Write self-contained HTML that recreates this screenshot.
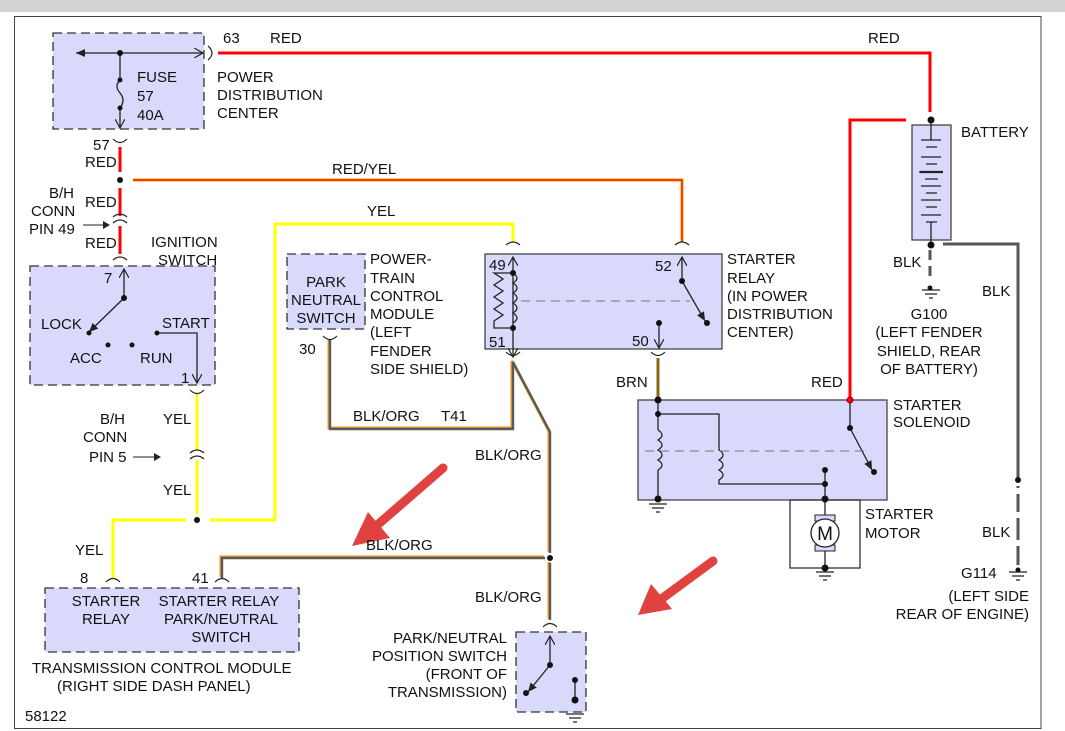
<!DOCTYPE html>
<html><head><meta charset="utf-8"><style>
html,body{margin:0;padding:0;background:#fff;width:1065px;height:731px;overflow:hidden}
svg{display:block}
text{font-family:"Liberation Sans",Arial,sans-serif;font-size:15px;fill:#111}
</style></head><body>
<svg width="1065" height="731" viewBox="0 0 1065 731" xmlns="http://www.w3.org/2000/svg">
<defs>
<marker id="ah" markerWidth="10" markerHeight="10" refX="9" refY="5" orient="auto" markerUnits="userSpaceOnUse"><path d="M0,0 L9,5 L0,10" fill="none" stroke="#222" stroke-width="1.2"/></marker>
<marker id="af" markerWidth="10" markerHeight="10" refX="9" refY="5" orient="auto" markerUnits="userSpaceOnUse"><path d="M0,1 L9,5 L0,9 Z" fill="#222"/></marker>
</defs>
<rect x="0" y="0" width="1065" height="12" fill="#d3d3d3"/>
<rect x="14.5" y="16.5" width="1026.5" height="712" fill="#fff" stroke="#444" stroke-width="1"/>

<g fill="#d9d9fb" stroke="#333" stroke-width="1.3" stroke-dasharray="9,5">
<rect x="53" y="33" width="151" height="96"/>
<rect x="30" y="266" width="185" height="119"/>
<rect x="287" y="254" width="78" height="75"/>
<rect x="45" y="588" width="254" height="64"/>
<rect x="516" y="632" width="70" height="80"/>
</g>
<g fill="#d9d9fb" stroke="#444" stroke-width="1.3">
<rect x="485" y="254" width="237" height="95"/>
<rect x="638" y="400" width="249" height="100"/>
<rect x="912" y="125" width="39" height="115"/>
</g>
<rect x="790" y="500" width="70" height="68" fill="none" stroke="#333" stroke-width="1.3"/>

<g fill="none" stroke-linejoin="miter">
<path d="M218,53 H930 V112" stroke="#f00" stroke-width="3"/>
<path d="M906,120 H850 V400" stroke="#f00" stroke-width="3"/>
<path d="M120,147 V172 M120,188 V216 M120,226 V254" stroke="#f00" stroke-width="3"/>
<path d="M133,180 H682 V242" stroke="#f7a000" stroke-width="3"/>
<path d="M133,180 H682 V242" stroke="#f00" stroke-width="1.2"/>
<path d="M197,394 V450 M197,460 V514 M210,520 H275 V224 H513 V242 M186,520 H113 V578" stroke="#ff0" stroke-width="3"/>
<g transform="translate(-1,-1)"><path d="M330,340 V429 H513 V362 L550,432 V553 M550,563 V620 M545,558 H222 V578" stroke="#f29422" stroke-width="3"/></g>
<path d="M330,340 V429 H513 V362 L550,432 V553 M550,563 V620 M545,558 H222 V578" stroke="#5a5a5a" stroke-width="2.4"/>
<path d="M658,358 V400" stroke="#8a6a10" stroke-width="3"/>
<path d="M943,244 H1018 V478 M1018,486 V565" stroke="#555" stroke-width="3"/>
<path d="M930,250 V282" stroke="#555" stroke-width="3" stroke-dasharray="10,6"/>
</g>
<rect x="1012" y="488" width="12" height="6" fill="#fff"/>
<rect x="1012" y="512" width="12" height="6" fill="#fff"/>
<rect x="1012" y="540" width="12" height="6" fill="#fff"/>

<g fill="none" stroke="#222" stroke-width="1.2">
<path d="M208,46 Q216,53 208,60"/>
<path d="M113,139 Q120,146 127,139"/>
<path d="M113,217 Q120,211 127,217 M113,223 Q120,217 127,223"/>
<path d="M113,260 Q120,254 127,260"/>
<path d="M190,390 Q197,397 204,390"/>
<path d="M190,453 Q197,447 204,453 M190,459 Q197,453 204,459"/>
<path d="M506,245 Q513,239 520,245"/>
<path d="M675,245 Q682,239 689,245"/>
<path d="M323,336 Q330,343 337,336"/>
<path d="M506,352 Q513,359 520,352"/>
<path d="M651,352 Q658,359 665,352"/>
<path d="M106,582 Q113,575 120,582"/>
<path d="M215,582 Q222,575 229,582"/>
<path d="M543,627 Q550,620 557,627"/>
</g>

<g stroke="#222" stroke-width="1.3" fill="none">
<path d="M120,53 H76" marker-end="url(#af)"/>
<path d="M120,53 H203" marker-end="url(#ah)"/>
<path d="M120,53 V80 Q114,86 120,93 Q126,100 120,108 V128" marker-end="url(#ah)"/>
<path d="M124,298 V269" marker-end="url(#ah)"/>
<path d="M124,298 L89,332" marker-end="url(#af)"/>
<path d="M157,333 H197 V383" marker-end="url(#ah)"/>
<path d="M513,338 V257" marker-end="url(#ah)"/>
<path d="M513,338 V357" marker-end="url(#ah)"/>
<path d="M513,273 H494 L503,279 L494,285 L503,291 L494,297 L503,303 L494,309 L503,315 L494,321 V328 H513"/>
<path d="M513,273 Q521,278 513,283 Q521,288 513,293 Q521,298 513,303 Q521,308 513,313 Q521,318 513,323"/>
<path d="M682,281 V257" marker-end="url(#ah)"/>
<path d="M682,281 L705,321" marker-end="url(#af)"/>
<path d="M659,323 V348" marker-end="url(#ah)"/>
<path d="M658,400 V430 M658,470 V500 M658,414 H719 V450 Q727,455 719,460 Q727,465 719,470 Q727,475 719,480 V484 H825 M825,470 V500"/>
<path d="M658,430 Q666,435 658,440 Q666,445 658,450 Q666,455 658,460 Q666,465 658,470"/>
<path d="M850,400 V428 L872,470" marker-end="url(#af)"/>
<path d="M825,500 V515 M825,550 V568"/>
<path d="M550,665 V636" marker-end="url(#ah)"/>
<path d="M550,665 L528,692" marker-end="url(#af)"/>
<path d="M575,680 V700"/>
<path d="M931,120 V140 M921,140 H941 M926,147 H937 M921,157 H941 M926,164 H937 M919,172 H943 M925,179 H938 M921,186 H941 M926,193 H937 M921,200 H941 M926,207 H937 M921,215 H941 M926,222 H937 M931,222 V245"/>
<path d="M920,172 H943" stroke-width="2.2"/>
</g>
<path d="M645,451 H870" stroke="#777" stroke-width="1" stroke-dasharray="9,6"/>
<path d="M521,301 H690" stroke="#777" stroke-width="1" stroke-dasharray="9,6"/>
<rect x="815" y="515" width="20" height="6" fill="#d9d9fb" stroke="#222"/>
<rect x="815" y="545" width="20" height="6" fill="#d9d9fb" stroke="#222"/>
<circle cx="825" cy="533" r="14" fill="#fff" stroke="#222" stroke-width="1.3"/>
<text x="825" y="540" text-anchor="middle" style="font-size:19px">M</text>

<g stroke="#222" stroke-width="1.2">
<path d="M649,504 H667 M652,508 H664 M656,512 H660"/>
<path d="M816,572 H834 M819,576 H831 M823,580 H827"/>
<path d="M922,290 H940 M925,294 H937 M929,298 H933"/>
<path d="M1009,572 H1027 M1012,576 H1024 M1016,580 H1020"/>
<path d="M566,714 H584 M569,718 H581 M573,722 H577"/>
</g>

<g fill="#111">
<circle cx="120" cy="53" r="3"/><circle cx="120" cy="80" r="2.5"/><circle cx="120" cy="108" r="2.5"/>
<circle cx="120" cy="180" r="3"/>
<circle cx="124" cy="298" r="3"/><circle cx="89" cy="333" r="2.5"/><circle cx="108" cy="345" r="2.5"/><circle cx="132" cy="345" r="2.5"/><circle cx="157" cy="333" r="2.5"/>
<circle cx="197" cy="520" r="3"/>
<circle cx="550" cy="558" r="3"/>
<circle cx="513" cy="273" r="3"/><circle cx="513" cy="328" r="3"/>
<circle cx="682" cy="281" r="3"/><circle cx="707" cy="323" r="3"/><circle cx="659" cy="323" r="3"/>
<circle cx="658" cy="400" r="3.5"/><circle cx="658" cy="414" r="3"/><circle cx="658" cy="499" r="3.5"/>
<circle cx="850" cy="428" r="3"/><circle cx="874" cy="472" r="3"/>
<circle cx="825" cy="470" r="3"/><circle cx="825" cy="484" r="3"/><circle cx="825" cy="499" r="3.5"/><circle cx="825" cy="568" r="3.5"/>
<circle cx="931" cy="120" r="3.5"/><circle cx="931" cy="245" r="3.5"/>
<circle cx="930" cy="288" r="2.5"/><circle cx="1018" cy="480" r="3"/><circle cx="1018" cy="570" r="2.5"/>
<circle cx="550" cy="665" r="3"/><circle cx="526" cy="693" r="3"/><circle cx="575" cy="680" r="3"/><circle cx="575" cy="700" r="3.5"/>
</g>
<circle cx="850" cy="400" r="3" fill="#f00" stroke="#900"/>

<g stroke="#e0433f" stroke-width="9" stroke-linecap="round" fill="#e0433f">
<path d="M443,468 L375,527"/>
<path d="M713,561 L660,600"/>
</g>
<path d="M352,546 L368,512 L390,538 Z" fill="#e0433f"/>
<path d="M638,615 L651,584 L672,609 Z" fill="#e0433f"/>

<text x="223" y="43">63</text><text x="270" y="43">RED</text>
<text x="868" y="43">RED</text>
<text x="137" y="82">FUSE</text><text x="137" y="101">57</text><text x="137" y="120">40A</text>
<text x="217" y="82">POWER</text><text x="217" y="100">DISTRIBUTION</text><text x="217" y="118">CENTER</text>
<text x="93" y="150">57</text><text x="85" y="167">RED</text>
<text x="332" y="174">RED/YEL</text>
<text x="49" y="198">B/H</text><text x="31" y="216">CONN</text><text x="29" y="234">PIN 49</text>
<text x="85" y="207">RED</text><text x="85" y="248">RED</text>
<path d="M83,225 H103" stroke="#222" stroke-width="1"/><path d="M103,221 L110,225 L103,229 Z" fill="#222"/>
<text x="151" y="247">IGNITION</text><text x="158" y="265">SWITCH</text>
<text x="104" y="283">7</text>
<text x="41" y="329">LOCK</text><text x="162" y="328">START</text>
<text x="70" y="363">ACC</text><text x="140" y="363">RUN</text>
<text x="181" y="383">1</text>
<text x="367" y="216">YEL</text>
<text x="370" y="264">POWER-</text><text x="370" y="283">TRAIN</text><text x="370" y="301">CONTROL</text><text x="370" y="319">MODULE</text><text x="370" y="337">(LEFT</text><text x="370" y="356">FENDER</text><text x="370" y="374">SIDE SHIELD)</text>
<text x="326" y="287" text-anchor="middle">PARK</text><text x="326" y="305" text-anchor="middle">NEUTRAL</text><text x="326" y="323" text-anchor="middle">SWITCH</text>
<text x="299" y="354">30</text>
<text x="489" y="270">49</text><text x="489" y="347">51</text>
<text x="655" y="271">52</text><text x="632" y="346">50</text>
<text x="727" y="264">STARTER</text><text x="727" y="283">RELAY</text><text x="727" y="301">(IN POWER</text><text x="727" y="319">DISTRIBUTION</text><text x="727" y="337">CENTER)</text>
<text x="961" y="137">BATTERY</text>
<text x="893" y="267">BLK</text><text x="982" y="296">BLK</text>
<text x="929" y="319" text-anchor="middle">G100</text><text x="929" y="337" text-anchor="middle">(LEFT FENDER</text><text x="929" y="356" text-anchor="middle">SHIELD, REAR</text><text x="929" y="374" text-anchor="middle">OF BATTERY)</text>
<text x="616" y="387">BRN</text><text x="811" y="387">RED</text>
<text x="893" y="410">STARTER</text><text x="893" y="427">SOLENOID</text>
<text x="865" y="519">STARTER</text><text x="865" y="538">MOTOR</text>
<text x="982" y="537">BLK</text>
<text x="961" y="578">G114</text>
<text x="1029" y="601" text-anchor="end">(LEFT SIDE</text><text x="1029" y="619" text-anchor="end">REAR OF ENGINE)</text>
<text x="353" y="421">BLK/ORG</text><text x="441" y="421">T41</text>
<text x="475" y="460">BLK/ORG</text>
<text x="100" y="424">B/H</text><text x="83" y="442">CONN</text><text x="89" y="462">PIN 5</text>
<path d="M133,457 H155" stroke="#222" stroke-width="1"/><path d="M154,453 L161,457 L154,461 Z" fill="#222"/>
<text x="163" y="424">YEL</text><text x="163" y="495">YEL</text>
<text x="75" y="555">YEL</text>
<text x="366" y="550">BLK/ORG</text>
<text x="475" y="602">BLK/ORG</text>
<text x="80" y="583">8</text><text x="192" y="583">41</text>
<text x="106" y="606" text-anchor="middle">STARTER</text><text x="106" y="624" text-anchor="middle">RELAY</text>
<text x="219" y="606" text-anchor="middle">STARTER RELAY</text><text x="221" y="624" text-anchor="middle">PARK/NEUTRAL</text><text x="221" y="642" text-anchor="middle">SWITCH</text>
<text x="32" y="673">TRANSMISSION CONTROL MODULE</text><text x="57" y="691">(RIGHT SIDE DASH PANEL)</text>
<text x="25" y="721">58122</text>
<text x="507" y="643" text-anchor="end">PARK/NEUTRAL</text><text x="507" y="661" text-anchor="end">POSITION SWITCH</text><text x="507" y="679" text-anchor="end">(FRONT OF</text><text x="507" y="697" text-anchor="end">TRANSMISSION)</text>
</svg>
</body></html>
